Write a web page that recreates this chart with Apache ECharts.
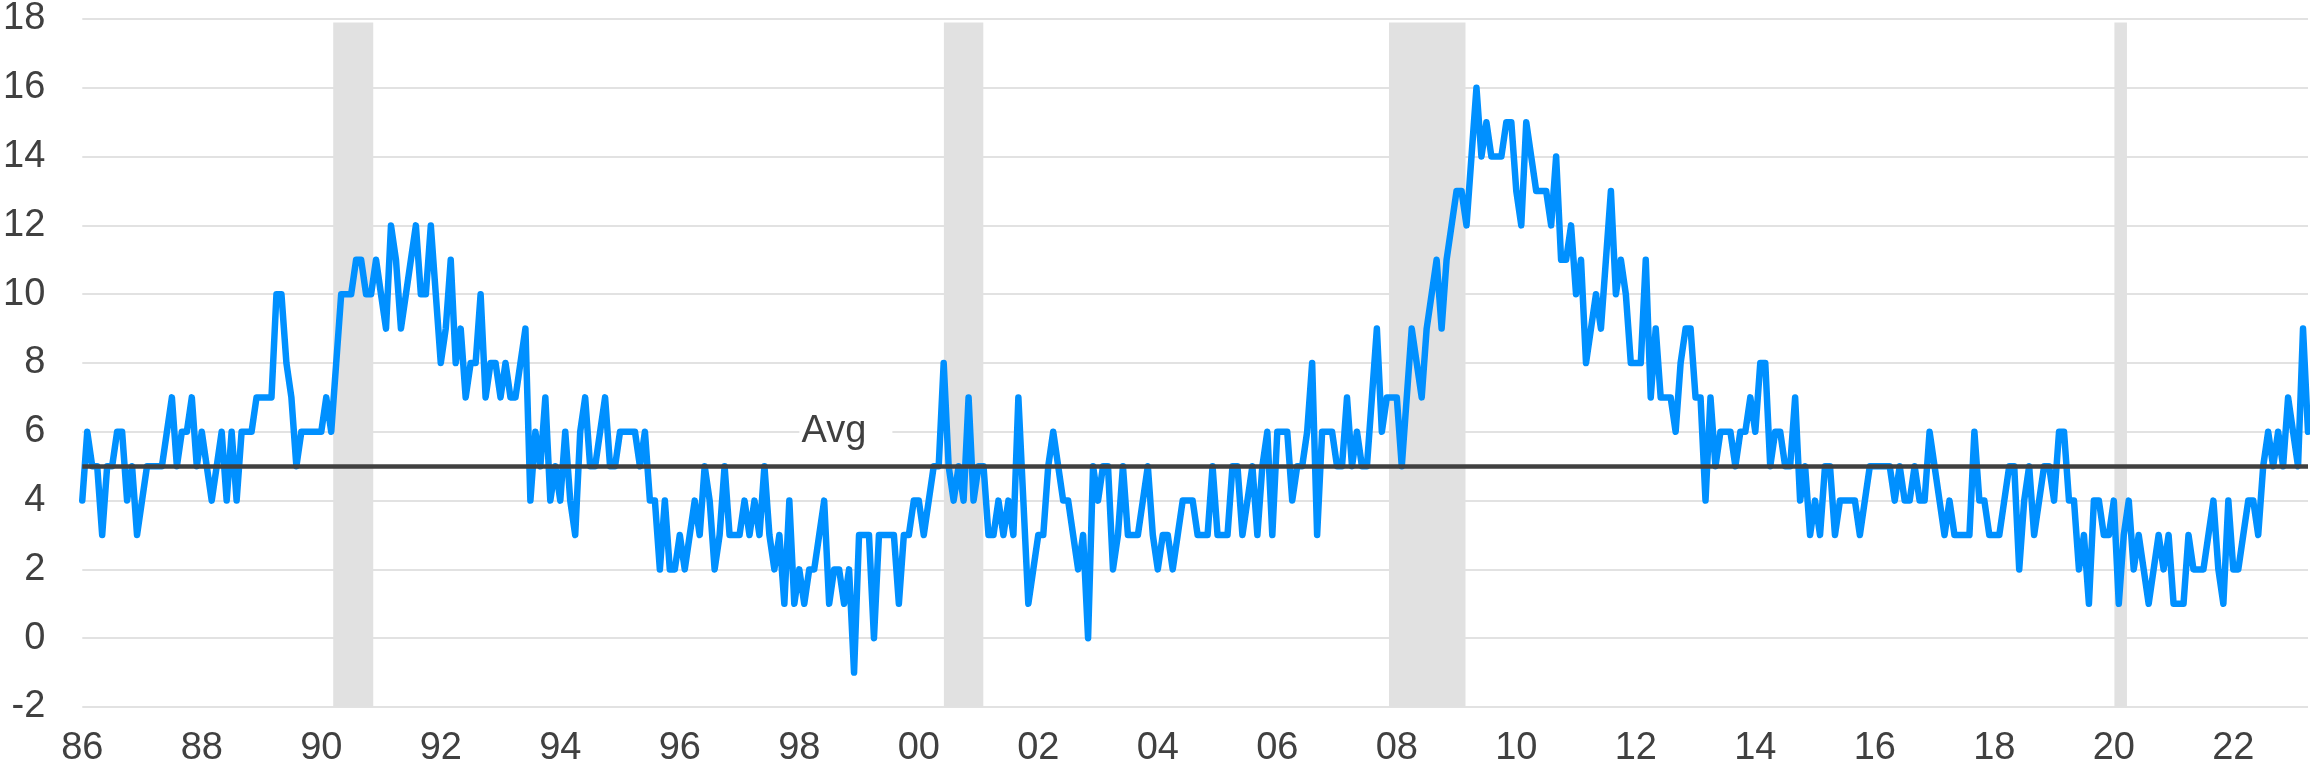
<!DOCTYPE html>
<html>
<head>
<meta charset="utf-8">
<title>chart</title>
<script src="https://cdn.jsdelivr.net/npm/echarts@6/dist/echarts.min.js"></script>
<style>
    html, body { margin: 0; padding: 0; background: #fff; }
    #echart1 { width: 2310px; height: 774px; }
</style>
</head>
<body>
<div id="echart1"></div>
<script>
// 起始年份 (月度数据, 1986年1月起)
const startYear = 1986

// 月度数值, 每行一年
const values = [
    4, 6, 5, 5, 3, 5, 5, 6, 6, 4, 5, 3,        // 86
    4, 5, 5, 5, 5, 6, 7, 5, 6, 6, 7, 5,        // 87
    6, 5, 4, 5, 6, 4, 6, 4, 6, 6, 6, 7,        // 88
    7, 7, 7, 10, 10, 8, 7, 5, 6, 6, 6, 6,      // 89
    6, 7, 6, 8, 10, 10, 10, 11, 11, 10, 10, 11, // 90
    10, 9, 12, 11, 9, 10, 11, 12, 10, 10, 12, 10, // 91
    8, 9, 11, 8, 9, 7, 8, 8, 10, 7, 8, 8,      // 92
    7, 8, 7, 7, 8, 9, 4, 6, 5, 7, 4, 5,        // 93
    4, 6, 4, 3, 6, 7, 5, 5, 6, 7, 5, 5,        // 94
    6, 6, 6, 6, 5, 6, 4, 4, 2, 4, 2, 2,        // 95
    3, 2, 3, 4, 3, 5, 4, 2, 3, 5, 3, 3,        // 96
    3, 4, 3, 4, 3, 5, 3, 2, 3, 1, 4, 1,        // 97
    2, 1, 2, 2, 3, 4, 1, 2, 2, 1, 2, -1,       // 98
    3, 3, 3, 0, 3, 3, 3, 3, 1, 3, 3, 4,        // 99
    4, 3, 4, 5, 5, 8, 5, 4, 5, 4, 7, 4,        // 00
    5, 5, 3, 3, 4, 3, 4, 3, 7, 4, 1, 2,        // 01
    3, 3, 5, 6, 5, 4, 4, 3, 2, 3, 0, 5,        // 02
    4, 5, 5, 2, 3, 5, 3, 3, 3, 4, 5, 3,        // 03
    2, 3, 3, 2, 3, 4, 4, 4, 3, 3, 3, 5,        // 04
    3, 3, 3, 5, 5, 3, 4, 5, 3, 5, 6, 3,        // 05
    6, 6, 6, 4, 5, 5, 6, 8, 3, 6, 6, 6,        // 06
    5, 5, 7, 5, 6, 5, 5, 7, 9, 6, 7, 7,        // 07
    7, 5, 7, 9, 8, 7, 9, 10, 11, 9, 11, 12,    // 08
    13, 13, 12, 14, 16, 14, 15, 14, 14, 14, 15, 15, // 09
    13, 12, 15, 14, 13, 13, 13, 12, 14, 11, 11, 12, // 10
    10, 11, 8, 9, 10, 9, 11, 13, 10, 11, 10, 8, // 11
    8, 8, 11, 7, 9, 7, 7, 7, 6, 8, 9, 9,       // 12
    7, 7, 4, 7, 5, 6, 6, 6, 5, 6, 6, 7,        // 13
    6, 8, 8, 5, 6, 6, 5, 5, 7, 4, 5, 3,        // 14
    4, 3, 5, 5, 3, 4, 4, 4, 4, 3, 4, 5,        // 15
    5, 5, 5, 5, 4, 5, 4, 4, 5, 4, 4, 6,        // 16
    5, 4, 3, 4, 3, 3, 3, 3, 6, 4, 4, 3,        // 17
    3, 3, 4, 5, 5, 2, 4, 5, 3, 4, 5, 5,        // 18
    4, 6, 6, 4, 4, 2, 3, 1, 4, 4, 3, 3,        // 19
    4, 1, 3, 4, 2, 3, 2, 1, 2, 3, 2, 3,        // 20
    1, 1, 1, 3, 2, 2, 2, 3, 4, 2, 1, 4,        // 21
    2, 2, 3, 4, 4, 3, 5, 6, 5, 6, 5, 7,        // 22
    6, 5, 9, 6                                  // 23
]

// 平均线
const avgValue = 5

// 衰退期阴影 (年份小数)
const bandStarts = [1990.20, 2000.42, 2007.87, 2020.01]
const bandEnds = [1990.87, 2001.08, 2009.15, 2020.22]

// Y轴刻度
const yMin = -2
const yMax = 18
const yStep = 2

const textColor = '#404040'
const fontFamily = "'Liberation Sans', Arial, sans-serif"

function echarts_1() {
    var dom = document.getElementById("echart1");
    var myChart1 = echarts.init(dom);

    // 月度 -> [年份, 数值]
    var lineData = values.map(function (v, i) {
        return [startYear + i / 12, v];
    });
    var xMax = startYear + (values.length - 1) / 12;

    var bands = bandStarts.map(function (s, i) {
        return [{ xAxis: s, yAxis: yMin }, { xAxis: bandEnds[i], yAxis: 17.9 }];
    });

    var option = {
        animation: false,
        backgroundColor: '#ffffff',
        grid: {
            left: 80,
            right: 2,
            top: 19,
            bottom: 67
        },
        xAxis: {
            type: 'value',
            min: startYear,
            max: xMax,
            interval: 2,
            axisLine: { show: false },
            axisTick: { show: false },
            splitLine: { show: false },
            axisLabel: {
                showMaxLabel: false,
                margin: 23,
                fontSize: 38,
                fontFamily: fontFamily,
                color: textColor,
                formatter: function (v) {
                    if (v % 2 !== 0) return '';
                    return String(v % 100).padStart(2, '0');
                }
            }
        },
        yAxis: {
            type: 'value',
            min: yMin,
            max: yMax,
            interval: yStep,
            axisLine: { show: false },
            axisTick: { show: false },
            splitLine: {
                lineStyle: { color: '#d9d9d9', width: 1.5 }
            },
            axisLabel: {
                margin: 37,
                fontSize: 38,
                fontFamily: fontFamily,
                color: textColor
            }
        },
        series: [
            {
                type: 'line',
                data: lineData,
                symbol: 'none',
                lineStyle: {
                    color: '#0090ff',
                    width: 6.5,
                    cap: 'round',
                    join: 'round'
                },
                markArea: {
                    silent: true,
                    itemStyle: { color: '#e1e1e1' },
                    data: bands
                },
                markLine: {
                    silent: true,
                    symbol: 'none',
                    label: { show: false },
                    lineStyle: { color: textColor, width: 4.5, type: 'solid' },
                    data: [{ yAxis: avgValue }]
                },
                markPoint: {
                    silent: true,
                    data: [{
                        coord: [1998.78, 6],
                        symbol: 'rect',
                        symbolSize: [93, 42],
                        itemStyle: { color: '#ffffff' },
                        label: {
                            show: true,
                            formatter: 'Avg',
                            offset: [-12, 0],
                            fontSize: 38,
                            fontFamily: fontFamily,
                            color: textColor
                        }
                    }]
                }
            }
        ]
    };

    if (option && typeof option === 'object') {
        myChart1.setOption(option, true);
    }
}

echarts_1();
</script>
</body>
</html>
